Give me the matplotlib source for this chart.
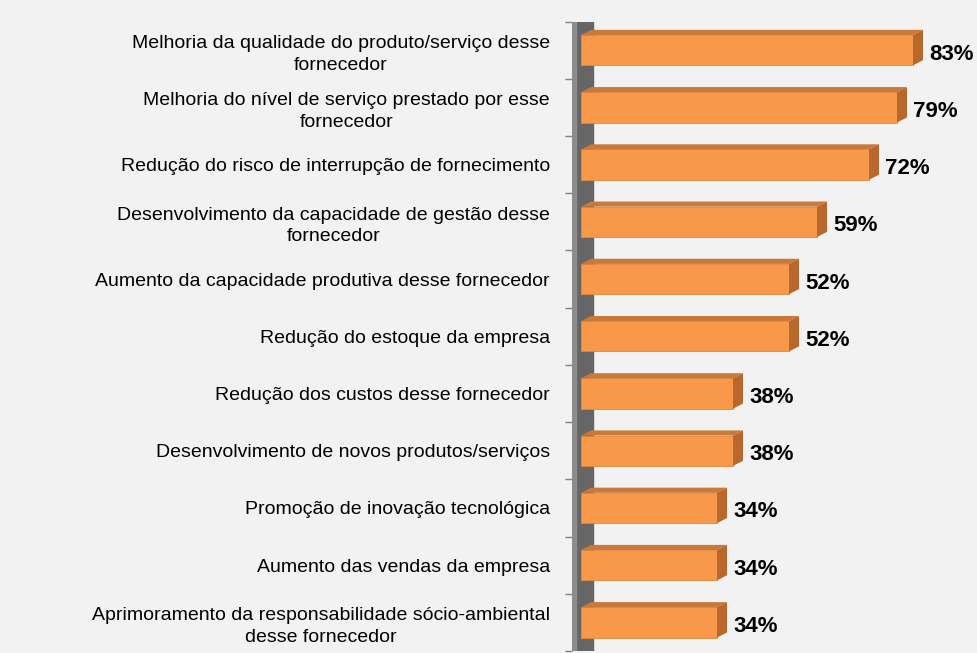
import numpy as np
import matplotlib.pyplot as plt
from matplotlib.patches import Polygon

plt.rcParams['font.family'] = ['Liberation Sans', 'DejaVu Sans']

categories = [
    'Melhoria da qualidade do produto/serviço desse\nfornecedor',
    'Melhoria do nível de serviço prestado por esse\nfornecedor',
    'Redução do risco de interrupção de fornecimento',
    'Desenvolvimento da capacidade de gestão desse\nfornecedor',
    'Aumento da capacidade produtiva desse fornecedor',
    'Redução do estoque da empresa',
    'Redução dos custos desse fornecedor',
    'Desenvolvimento de novos produtos/serviços',
    'Promoção de inovação tecnológica',
    'Aumento das vendas da empresa',
    'Aprimoramento da responsabilidade sócio-ambiental\ndesse fornecedor',
]
values = [83, 79, 72, 59, 52, 52, 38, 38, 34, 34, 34]
value_labels = ['83%', '79%', '72%', '59%', '52%', '52%', '38%', '38%', '34%', '34%', '34%']

bg = '#f2f2f2'
front = '#f8994a'
top_c = '#c9793a'
side_c = '#b8682c'

fig = plt.figure(figsize=(9.77, 6.53), dpi=100, facecolor=bg)
ax = fig.add_axes([0.5855, 0.003, 0.4145, 0.964], facecolor=bg)

y = np.arange(len(values))
h = 0.53
d = 2.5    # depth in x units
dy = 0.09  # depth in y units

# gray wall on the left
ax.axvspan(-2.25, 3.0, color='#666666', zorder=0)
ax.axvspan(-2.25, -1.3, color='#8c8c8c', zorder=0)

ax.barh(y, values, height=h, color=front, edgecolor='#e0883e', linewidth=0.6, zorder=3)
for yi, v, lab in zip(y, values, value_labels):
    top = Polygon([(0, yi - h / 2), (d, yi - h / 2 - dy), (v + d, yi - h / 2 - dy), (v, yi - h / 2)],
                  closed=True, facecolor=top_c, edgecolor='none', zorder=3)
    side = Polygon([(v, yi - h / 2), (v + d, yi - h / 2 - dy), (v + d, yi + h / 2 - dy), (v, yi + h / 2)],
                   closed=True, facecolor=side_c, edgecolor='none', zorder=3)
    ax.add_patch(top)
    ax.add_patch(side)
    ax.text(v + d + 1.6, yi + 0.07, lab, va='center', ha='left', fontsize=16, fontweight='bold', color='black')

ax.set_xlim(-2.25, 99)
ax.set_ylim(len(values) - 0.5, -0.5)

ax.set_yticks(y)
ax.set_yticklabels(categories, fontsize=14)
for t in ax.get_yticklabels():
    t.set_multialignment('center')
    t.set_linespacing(1.35)
ax.set_yticks(np.arange(-0.5, len(values), 1), minor=True)
ax.tick_params(axis='y', which='major', length=0, pad=16)
ax.tick_params(axis='y', which='minor', length=5, color='#808080', width=1)
ax.set_xticks([])
for s in ax.spines.values():
    s.set_visible(False)

fig.savefig('out.png', dpi=100, facecolor=bg)
